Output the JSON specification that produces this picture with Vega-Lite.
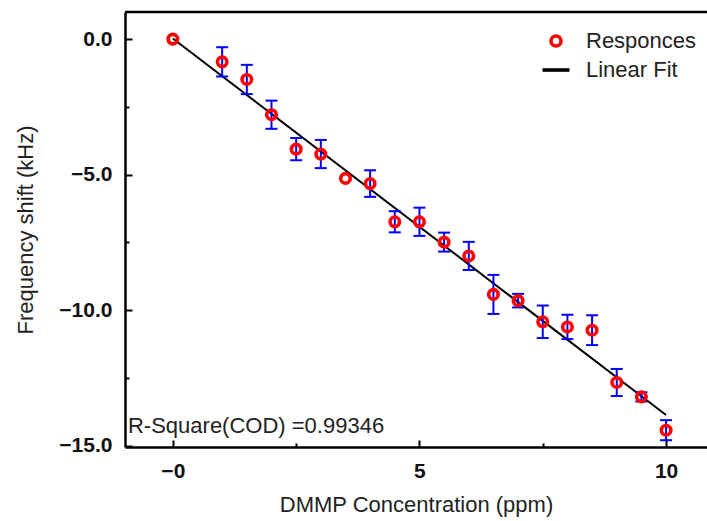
{
  "$schema": "https://vega.github.io/schema/vega-lite/v6.json",
  "width": 582,
  "height": 435,
  "autosize": {"type": "none"},
  "padding": {"left": 125, "top": 12, "right": 0, "bottom": 74},
  "background": "white",
  "config": {
    "view": {"stroke": null},
    "font": "Liberation Sans",
    "axis": {
      "domainColor": "black",
      "domainWidth": 2.5,
      "tickColor": "black",
      "tickWidth": 2,
      "labelFont": "Liberation Sans",
      "labelFontWeight": "bold",
      "labelFontSize": 21,
      "labelColor": "#111",
      "titleFont": "Liberation Sans",
      "titleFontWeight": "normal",
      "titleFontSize": 22,
      "titleColor": "#222",
      "grid": false
    }
  },
  "datasets": {
    "resp": [
      {"conc": 0, "shift": 0.0, "err": 0},
      {"conc": 1, "shift": -0.84, "err": 0.54},
      {"conc": 1.5, "shift": -1.49, "err": 0.54},
      {"conc": 2, "shift": -2.79, "err": 0.52},
      {"conc": 2.5, "shift": -4.06, "err": 0.41},
      {"conc": 3, "shift": -4.24, "err": 0.52},
      {"conc": 3.5, "shift": -5.14, "err": 0},
      {"conc": 4, "shift": -5.33, "err": 0.49},
      {"conc": 4.5, "shift": -6.74, "err": 0.39},
      {"conc": 5, "shift": -6.74, "err": 0.52},
      {"conc": 5.5, "shift": -7.49, "err": 0.35},
      {"conc": 6, "shift": -8.0, "err": 0.52},
      {"conc": 6.5, "shift": -9.42, "err": 0.72},
      {"conc": 7, "shift": -9.65, "err": 0.25},
      {"conc": 7.5, "shift": -10.43, "err": 0.6},
      {"conc": 8, "shift": -10.62, "err": 0.45},
      {"conc": 8.5, "shift": -10.74, "err": 0.55},
      {"conc": 9, "shift": -12.67, "err": 0.5},
      {"conc": 9.5, "shift": -13.2, "err": 0.17},
      {"conc": 10, "shift": -14.43, "err": 0.37}
    ],
    "fit": [
      {"conc": 0, "shift": 0.02},
      {"conc": 10, "shift": -13.87}
    ],
    "note": [
      {"conc": -0.91, "shift": -14.54, "label": "R-Square(COD) =0.99346"}
    ],
    "frame": [
      {"top": 1.0}
    ]
  },
  "layer": [
    {
      "data": {"name": "frame"},
      "mark": {"type": "rule", "color": "black", "strokeWidth": 2.5},
      "encoding": {
        "y": {"field": "top", "type": "quantitative", "title": "Frequency shift (kHz)", "scale": {"domain": [-15.05, 1.0], "nice": false, "zero": false}}
      }
    },
    {
      "data": {"name": "fit"},
      "mark": {"type": "line", "strokeWidth": 2},
      "encoding": {
        "x": {"field": "conc", "type": "quantitative", "title": "DMMP Concentration (ppm)"},
        "y": {"field": "shift", "type": "quantitative", "title": "Frequency shift (kHz)"},
        "stroke": {"datum": "Linear Fit"}
      }
    },
    {
      "data": {"name": "resp"},
      "transform": [{"filter": "datum.err > 0"}],
      "mark": {"type": "errorbar", "ticks": {"size": 12, "thickness": 2, "opacity": 1}, "rule": {"opacity": 1}, "color": "#0000ff", "opacity": 1, "thickness": 2},
      "encoding": {
        "x": {"field": "conc", "type": "quantitative", "title": "DMMP Concentration (ppm)"},
        "y": {"field": "shift", "type": "quantitative", "title": "Frequency shift (kHz)"},
        "yError": {"field": "err"}
      }
    },
    {
      "data": {"name": "resp"},
      "mark": {"type": "point", "filled": false, "size": 90, "strokeWidth": 3.6, "opacity": 1},
      "encoding": {
        "x": {
          "field": "conc", "type": "quantitative",
          "title": "DMMP Concentration (ppm)",
          "scale": {"domain": [-0.97, 10.83], "nice": false, "zero": false},
          "axis": {
            "values": [0, 2.5, 5, 7.5, 10],
            "labelExpr": "datum.value === 0 ? '−0' : (datum.value % 5 === 0 ? datum.label : '')",
            "tickSize": {"condition": {"test": "datum.value % 5 === 0", "value": -7}, "value": -4},
            "labelPadding": 20,
            "titlePadding": 13
          }
        },
        "y": {
          "field": "shift", "type": "quantitative",
          "title": "Frequency shift (kHz)",
          "scale": {"domain": [-15.05, 1.0], "nice": false, "zero": false},
          "axis": {
            "values": [0, -2.5, -5, -7.5, -10, -12.5, -15],
            "format": ".1f",
            "labelExpr": "datum.value % 5 === 0 ? datum.label : ''",
            "tickSize": {"condition": {"test": "datum.value % 5 === 0", "value": -7}, "value": -4},
            "labelPadding": 20,
            "titlePadding": 21
          }
        },
        "shape": {
          "datum": "Responces",
          "scale": {"domain": ["Responces", "Linear Fit"], "range": ["circle", "M-2.7,0L2.7,0"]}
        },
        "stroke": {
          "datum": "Responces",
          "scale": {"domain": ["Responces", "Linear Fit"], "range": ["#ff0000", "#000000"]},
          "legend": {
            "title": null,
            "orient": "none",
            "legendX": 420,
            "legendY": 18,
            "labelFont": "Liberation Sans",
            "labelFontSize": 22,
            "labelColor": "#222",
            "labelOffset": 19,
            "rowPadding": 5,
            "symbolSize": 100,
            "symbolStrokeWidth": 3.6,
            "symbolFillColor": "transparent"
          }
        }
      }
    },
    {
      "data": {"name": "note"},
      "mark": {"type": "text", "align": "left", "baseline": "alphabetic", "fontSize": 22, "font": "Liberation Sans", "color": "#222"},
      "encoding": {
        "x": {"field": "conc", "type": "quantitative", "title": "DMMP Concentration (ppm)"},
        "y": {"field": "shift", "type": "quantitative", "title": "Frequency shift (kHz)"},
        "text": {"field": "label"}
      }
    }
  ]
}
